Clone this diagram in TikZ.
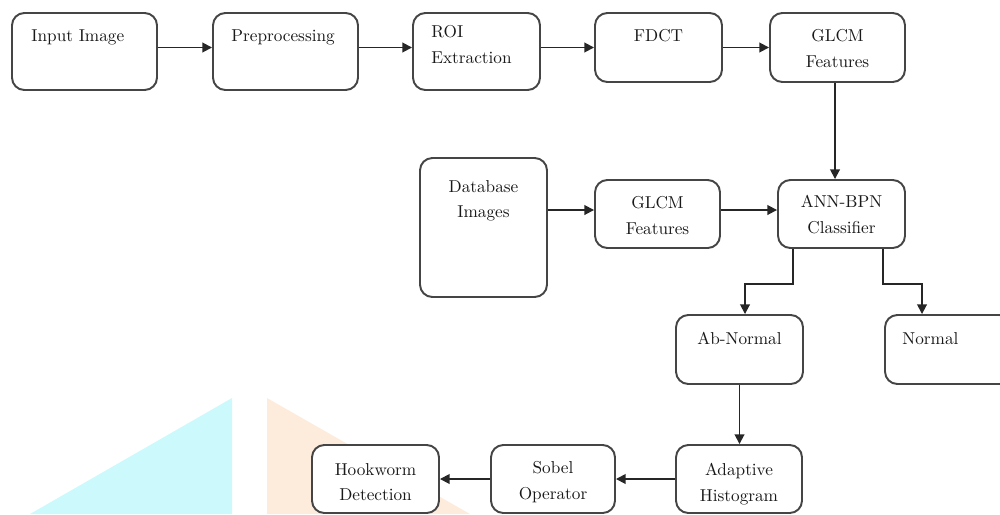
\documentclass[tikz,border=0pt]{standalone}
\usetikzlibrary{arrows.meta}

\definecolor{wmcyan}{HTML}{CCFAFC}
\definecolor{wmorange}{HTML}{FDEBDC}
\definecolor{edge}{HTML}{454545}

\begin{document}
\begin{tikzpicture}[x=0.02cm, y=-0.02cm,
    box/.style={draw=edge, line width=1.1pt, rounded corners=7pt, fill=white,
      inner sep=0pt, minimum width=2.54cm, minimum height=1.38cm},
    lbl/.style={inner sep=0pt, align=center, text=black!90,
      font=\fontsize{9.8}{14.5}\selectfont},
    arr/.style={draw=black!85, line width=1pt, -{Triangle[length=5.5pt,width=5.5pt]}}]
    \useasboundingbox (0,0) rectangle (1000,514);

    % watermark remains
    \fill[wmcyan] (232,398) -- (30,514) -- (232,514) -- cycle;
    \fill[wmorange] (267,398) -- (267,514) -- (470,514) -- cycle;

    % top row
    \node[box, minimum width=2.9cm, minimum height=1.54cm,
      label={[lbl, anchor=north west, xshift=0.4cm, yshift=-0.34cm]north west:Input Image}]
      (inimg) at (84.5,51.5) {};
    \node[box, minimum width=2.9cm, minimum height=1.54cm,
      label={[lbl, anchor=north west, xshift=0.38cm, yshift=-0.34cm]north west:Preprocessing}]
      (prep) at (285.5,51.5) {};
    \node[box, minimum height=1.54cm,
      label={[lbl, anchor=north west, xshift=0.38cm, yshift=-0.26cm, align=left]north west:{ROI\\Extraction}}]
      (roi) at (476.5,51.5) {};
    \node[box, label={[lbl, anchor=north, yshift=-0.34cm]north:FDCT}]
      (fdct) at (658.5,47.5) {};
    \node[box, minimum width=2.7cm,
      label={[lbl, anchor=north, yshift=-0.34cm]north:{GLCM\\Features}}]
      (glcma) at (837.5,47.5) {};

    % middle row
    \node[box, minimum height=2.78cm,
      label={[lbl, anchor=north, yshift=-0.46cm]north:{Database\\Images}}]
      (db) at (483.5,227.5) {};
    \node[box, minimum width=2.5cm, minimum height=1.36cm,
      label={[lbl, anchor=north, yshift=-0.34cm]north:{GLCM\\Features}}]
      (glcmb) at (657.5,214) {};
    \node[box, minimum height=1.36cm,
      label={[lbl, anchor=north, yshift=-0.32cm]north:{ANN-BPN\\Classifier}}]
      (ann) at (841.5,214) {};

    % classes
    \node[box, label={[lbl, anchor=north, yshift=-0.36cm]north:Ab-Normal}]
      (abn) at (739.5,349.5) {};
    \node[box, label={[lbl, anchor=north west, xshift=0.36cm, yshift=-0.36cm]north west:Normal}]
      (norm) at (948.5,349.5) {};

    % bottom row
    \node[box, minimum width=2.52cm, minimum height=1.36cm,
      label={[lbl, anchor=north, yshift=-0.38cm]north:{Adaptive\\Histogram}}]
      (adapt) at (739,479) {};
    \node[box, minimum width=2.48cm, minimum height=1.36cm,
      label={[lbl, anchor=north, yshift=-0.34cm]north:{Sobel\\Operator}}]
      (sobel) at (553,479) {};
    \node[box, minimum height=1.36cm,
      label={[lbl, anchor=north, yshift=-0.38cm]north:{Hookworm\\Detection}}]
      (hook) at (375.5,479) {};

    % connectors
    \draw[arr] (inimg.east |- fdct) -- (prep.west |- fdct);
    \draw[arr] (prep.east |- fdct) -- (roi.west |- fdct);
    \draw[arr] (roi.east |- fdct) -- (fdct.west);
    \draw[arr] (fdct.east) -- (glcma.west);
    \draw[arr] ([xshift=-0.05cm]glcma.south) -- ([xshift=-0.05cm]glcma.south |- ann.north);

    \draw[arr] (db.east |- 0,210) -- (glcmb.west |- 0,210);
    \draw[arr] (glcmb.east |- 0,210) -- (ann.west |- 0,210);

    \draw[arr] ([xshift=-0.97cm]ann.south) -- ++(0,35) -| ([xshift=0.11cm]abn.north);
    \draw[arr] ([xshift=0.83cm]ann.south) -- ++(0,35) -| ([xshift=-0.53cm]norm.north);

    \draw[arr] (abn.south) -- (abn.south |- adapt.north);
    \draw[arr] (adapt.west) -- (sobel.east);
    \draw[arr] (sobel.west) -- (hook.east);
  \end{tikzpicture}
\end{document}
